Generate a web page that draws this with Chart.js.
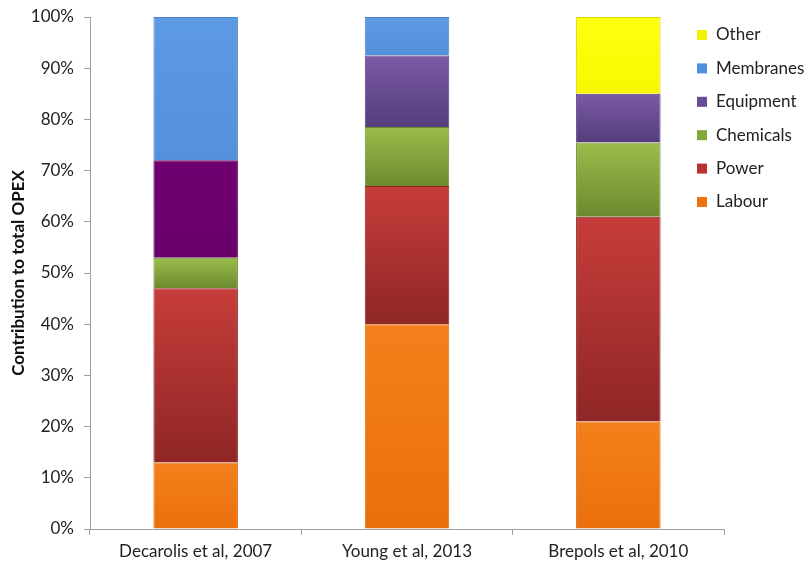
<!DOCTYPE html>
<html>
<head>
<meta charset="utf-8">
<script src="https://cdn.jsdelivr.net/npm/chart.js@4"></script>
<style>
  html, body { margin: 0; padding: 0; background: #fff; }
  #wrap { width: 810px; height: 565px; }
</style>
</head>
<body>
<div id="wrap"><canvas id="opexChart" width="810" height="565"></canvas></div>
<script>
"use strict";

const categories = ["Decarolis et al, 2007", "Young et al, 2013", "Brepols et al, 2010"];
const labour = [13, 40, 21];
const power = [34, 27, 40];
const chemicals = [6, 11.5, 14.5];
const equipment = [19, 14, 9.5];
const membranes = [28, 7.5, 0];
const other = [0, 0, 15];
const yTicks = [0, 10, 20, 30, 40, 50, 60, 70, 80, 90, 100];

Chart.defaults.font.family = "Lato, 'Open Sans', sans-serif";
Chart.defaults.color = "#222";

// light top -> dark bottom fill for each stacked segment
function shade(tops, bottoms) {
  return function (ctx) {
    const chart = ctx.chart;
    const y = chart.scales.y;
    const i = ctx.dataIndex;
    const top = Array.isArray(tops) ? tops[i] : tops;
    const bottom = Array.isArray(bottoms) ? bottoms[i] : bottoms;
    if (!y || ctx.type !== "data") return top;
    let start = 0;
    for (let d = 0; d < ctx.datasetIndex; d++) {
      start += chart.data.datasets[d].data[i];
    }
    const end = start + chart.data.datasets[ctx.datasetIndex].data[i];
    const y0 = y.getPixelForValue(end);
    const y1 = y.getPixelForValue(start);
    if (!isFinite(y0) || !isFinite(y1) || y0 === y1) return top;
    const g = chart.ctx.createLinearGradient(0, y0, 0, y1);
    g.addColorStop(0, top);
    g.addColorStop(1, bottom);
    return g;
  };
}

const legendItems = [
  { label: "Other", color: "#f2f200" },
  { label: "Membranes", color: "#4f8fdc" },
  { label: "Equipment", color: "#6a4c93" },
  { label: "Chemicals", color: "#83a83a" },
  { label: "Power", color: "#b83232" },
  { label: "Labour", color: "#ee7310" }
];

const sideLegend = {
  id: "sideLegend",
  afterDraw(chart) {
    const c = chart.ctx;
    c.save();
    c.font = "17px Lato, 'Open Sans', sans-serif";
    c.textBaseline = "middle";
    for (let k = 0; k < legendItems.length; k++) {
      const yc = 35 + k * 33.4;
      c.fillStyle = legendItems[k].color;
      c.fillRect(697, yc - 5, 10, 10);
      c.fillStyle = "#222";
      c.fillText(legendItems[k].label, 716, yc);
    }
    c.restore();
  }
};

const data = {
  labels: categories,
  datasets: [
    { label: "Labour", data: labour, backgroundColor: shade("#f3801c", "#ea700c"), borderColor: "#d8680c" },
    { label: "Power", data: power, backgroundColor: shade("#c63d3a", "#8f2626"), borderColor: "#8a2424" },
    { label: "Chemicals", data: chemicals, backgroundColor: shade("#9cbd4c", "#6b8a2e"), borderColor: "#6b8a2e" },
    { label: "Equipment", data: equipment,
      backgroundColor: shade(["#700070", "#7a5aa5", "#7a5aa5"], ["#680068", "#553d7c", "#553d7c"]),
      borderColor: ["#600060", "#553d7c", "#553d7c"] },
    { label: "Membranes", data: membranes, backgroundColor: shade("#5c9ae2", "#5590dc"), borderColor: "#4a82c8" },
    { label: "Other", data: other, backgroundColor: shade("#ffff10", "#f8f800"), borderColor: "#d8d800" }
  ]
};

const config = {
  type: "bar",
  data: data,
  plugins: [sideLegend],
  options: {
    responsive: false,
    animation: false,
    layout: { padding: { top: 17, right: 86, bottom: 0, left: 8 } },
    datasets: {
      bar: { barPercentage: 0.4, categoryPercentage: 1, borderWidth: 1 }
    },
    plugins: {
      legend: { display: false },
      tooltip: { enabled: false }
    },
    scales: {
      x: {
        stacked: true,
        border: { color: "#a0a0a0" },
        grid: { drawOnChartArea: false, drawTicks: true, tickLength: 6, color: "#a0a0a0" },
        ticks: { font: { size: 17 }, color: "#222", padding: 6 },
        afterFit: function (axis) { axis.height = 36; }
      },
      y: {
        stacked: true,
        min: 0,
        max: 100,
        border: { color: "#a0a0a0" },
        grid: { drawOnChartArea: false, drawTicks: true, tickLength: 6, color: "#a0a0a0" },
        afterBuildTicks: function (axis) {
          axis.ticks = yTicks.map(function (v) { return { value: v }; });
        },
        afterFit: function (axis) {
          axis.width = 82;
          axis.paddingTop = 0;
        },
        ticks: {
          font: { size: 17 },
          color: "#222",
          padding: 10,
          callback: function (v) { return v + "%"; }
        },
        title: {
          display: true,
          text: "Contribution to total OPEX",
          font: { size: 17, weight: "bold" },
          color: "#111",
          padding: { top: 0, bottom: 0 }
        }
      }
    }
  }
};

const opexChart = new Chart(document.getElementById("opexChart"), config);
</script>
</body>
</html>
